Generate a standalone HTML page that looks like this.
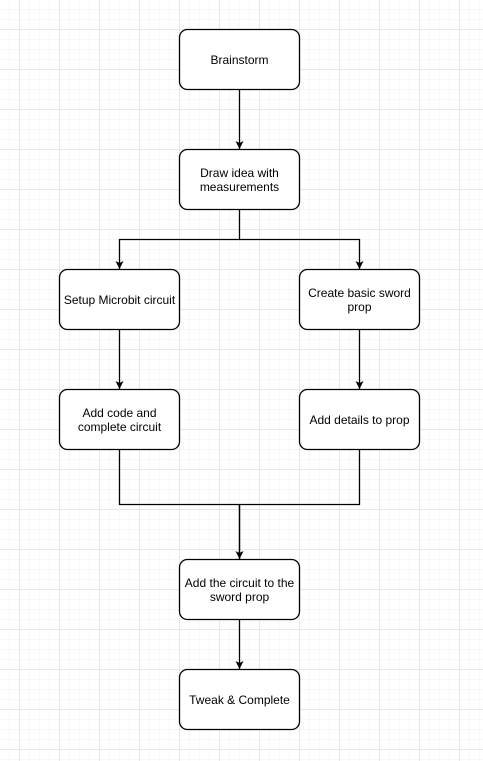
<!DOCTYPE html>
<html><head><style>
html,body{margin:0;padding:0;background:#fff}
</style></head><body>
<svg width="483" height="761" xmlns="http://www.w3.org/2000/svg" style="display:block">
<defs>
<pattern id="minor" width="10" height="10" patternUnits="userSpaceOnUse" x="-0.5" y="-0.5">
<path d="M10 0V10M0 10H10" fill="none" stroke="#f0f0f0" stroke-width="1"/>
</pattern>
<pattern id="major" width="40" height="40" patternUnits="userSpaceOnUse" x="19.5" y="29.5">
<path d="M0 0V40M0 0H40" fill="none" stroke="#e0e0e0" stroke-width="1"/>
</pattern>
<marker id="a" markerWidth="10" markerHeight="10" refX="8" refY="5" orient="auto" markerUnits="userSpaceOnUse">
<path d="M0,1 L8,5 L0,9 L2,5 Z" fill="#000"/>
</marker>
</defs>
<rect width="483" height="761" fill="url(#minor)"/>
<rect width="483" height="761" fill="url(#major)"/>
<g fill="none" stroke="#000" stroke-width="1.3">
<path d="M239.5 89.5V149" marker-end="url(#a)"/>
<path d="M239.5 209.5V239.5H119.5V269" marker-end="url(#a)"/>
<path d="M239.5 239.5H359.5V269" marker-end="url(#a)"/>
<path d="M119.5 329.5V389" marker-end="url(#a)"/>
<path d="M359.5 329.5V389" marker-end="url(#a)"/>
<path d="M119.5 449.5V504.5H359.5V449.5M239.5 504.5V559" />
<path d="M239.5 504.5V559" marker-end="url(#a)"/>
<path d="M239.5 619.5V669" marker-end="url(#a)"/>
</g>
<g fill="#fff" stroke="#000" stroke-width="1.3">
<rect x="179.5" y="29.5" width="120" height="60" rx="8"/>
<rect x="179.5" y="149.5" width="120" height="60" rx="8"/>
<rect x="59.5" y="269.5" width="120" height="60" rx="8"/>
<rect x="299.5" y="269.5" width="120" height="60" rx="8"/>
<rect x="59.5" y="389.5" width="120" height="60" rx="8"/>
<rect x="299.5" y="389.5" width="120" height="60" rx="8"/>
<rect x="179.5" y="559.5" width="120" height="60" rx="8"/>
<rect x="179.5" y="669.5" width="120" height="60" rx="8"/>
</g>
<g font-family="Liberation Sans, sans-serif" font-size="12" text-anchor="middle" fill="#000">
<text x="239.5" y="64">Brainstorm</text>
<text x="239.5" y="177">Draw idea with</text>
<text x="239.5" y="191">measurements</text>
<text x="119.5" y="304">Setup Microbit circuit</text>
<text x="359.5" y="297">Create basic sword</text>
<text x="359.5" y="311">prop</text>
<text x="119.5" y="417">Add code and</text>
<text x="119.5" y="431">complete circuit</text>
<text x="359.5" y="424">Add details to prop</text>
<text x="239.5" y="587">Add the circuit to the</text>
<text x="239.5" y="601">sword prop</text>
<text x="239.5" y="704">Tweak &amp; Complete</text>
</g>
</svg>
</body></html>
